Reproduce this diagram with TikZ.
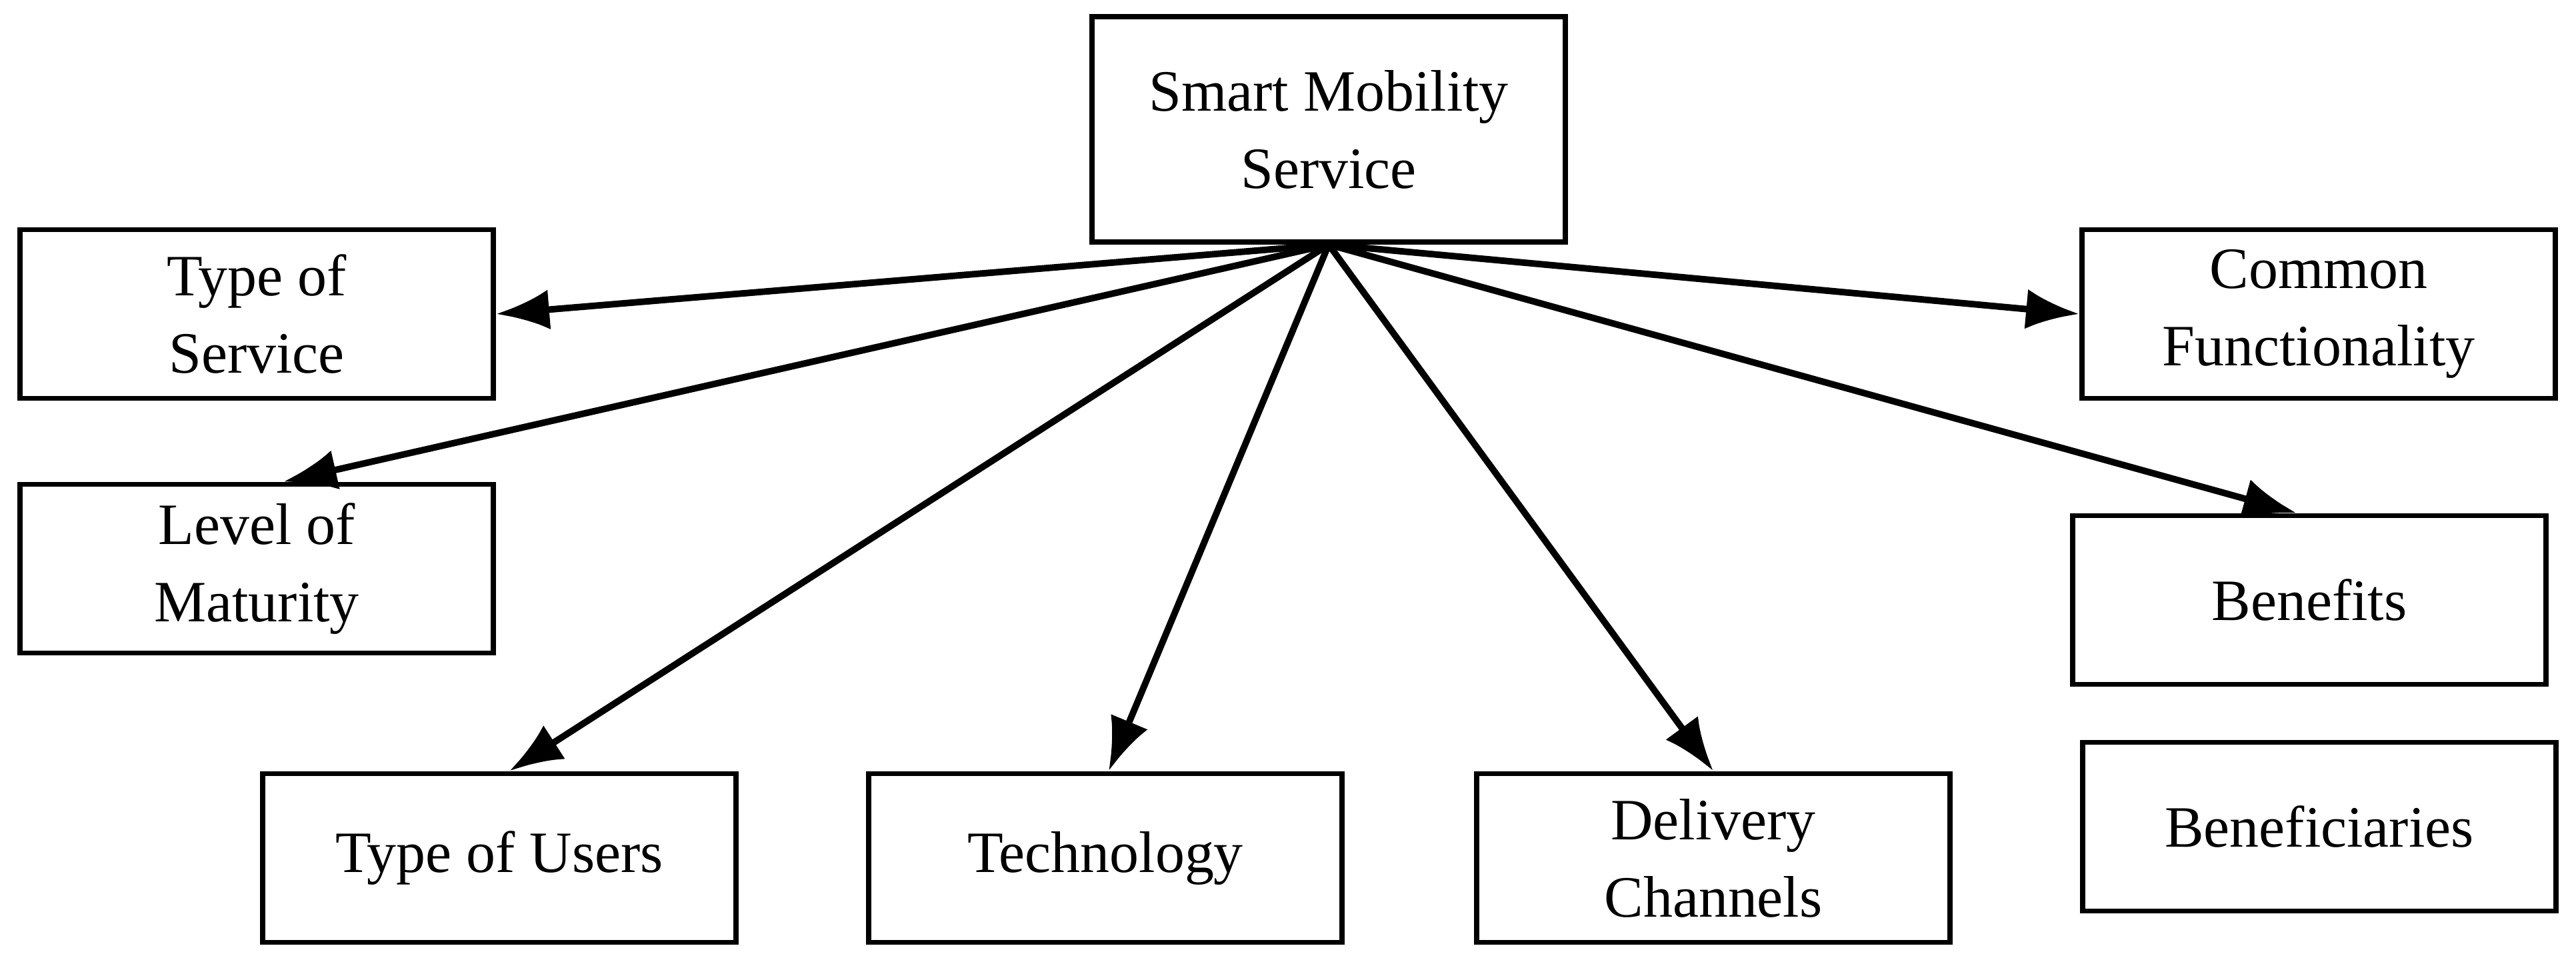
\documentclass[tikz,border=0pt]{standalone}
\usepackage{fontspec}
\setmainfont{Liberation Serif}
\usetikzlibrary{arrows.meta}
\tikzset{
	box/.style={draw, line width=2.2pt, minimum width=7.1cm, minimum height=2.53cm,
		align=center, font=\fontsize{25}{33}\selectfont},
	link/.style={line width=2.8pt, -{Latex[length=0.8cm, width=0.6cm]}}
}
\begin{document}
\begin{tikzpicture}
\useasboundingbox (0,0) rectangle (38.64,14.4);
\node[box, minimum height=3.38cm] (sms) at (19.93,12.46) {Smart Mobility\\Service};
\node[box] (tos) at (3.85,9.69) {Type of\\Service};
\node[box] (lom) at (3.85,5.87) {Level of\\Maturity};
\node[box] (tou) at (7.49,1.53) {Type of Users};
\node[box] (tec) at (16.58,1.53) {Technology};
\node[box] (dch) at (25.70,1.53) {Delivery\\Channels};
\node[box] (cfn) at (34.78,9.69) {Common\\Functionality};
\node[box] (ben) at (34.64,5.40) {Benefits};
\node[box] (bfy) at (34.79,2.00) {Beneficiaries};
\foreach \t/\dx in {tou/0.15, tec/0.05, dch/0, ben/-0.19, lom/0.4}
	\draw[link] (sms.south) -- ([xshift=\dx cm]\t.north);
\draw[link] (sms.south) -- (tos.east);
\draw[link] (sms.south) -- (cfn.west);
\end{tikzpicture}
\end{document}
